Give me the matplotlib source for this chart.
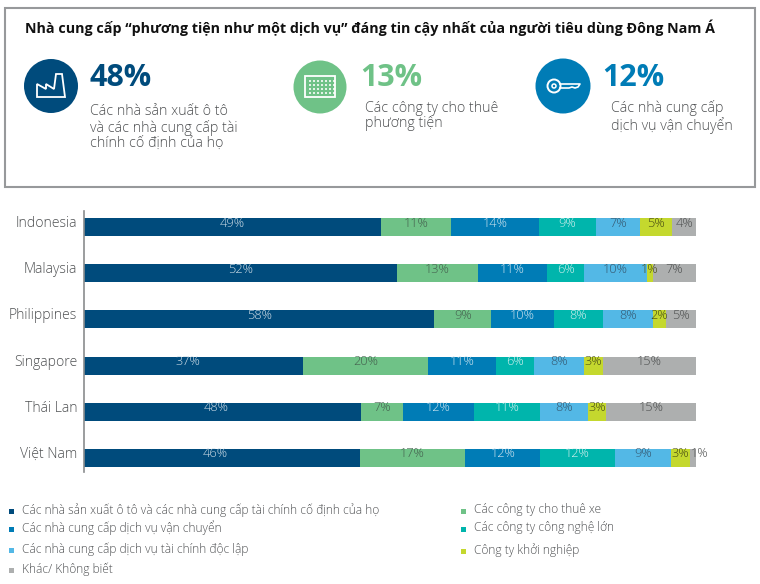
import matplotlib
matplotlib.use("Agg")
import matplotlib.pyplot as plt
from matplotlib.patches import Circle, Rectangle, Polygon
import numpy as np

plt.rcParams["font.family"] = ["Open Sans", "Noto Sans", "DejaVu Sans"]

W, H = 760, 584

countries = ["Indonesia", "Malaysia", "Philippines", "Singapore", "Thái Lan", "Việt Nam"]
series_names = [
    "Các nhà sản xuất ô tô và các nhà cung cấp tài chính cố định của họ",
    "Các công ty cho thuê xe",
    "Các nhà cung cấp dịch vụ vận chuyển",
    "Các công ty công nghệ lớn",
    "Các nhà cung cấp dịch vụ tài chính độc lập",
    "Công ty khởi nghiệp",
    "Khác/ Không biết",
]
colors = ["#004b7c", "#6fc287", "#007cb6", "#00b5ac", "#53b8e6", "#c4d82e", "#adafaf"]
label_colors = ["#cfdde7", "#44604e", "#cfe4ef", "#d3f0ee", "#35566e", "#474b14", "#4d4f4f"]

# segment widths as drawn (share of the bar)
oem = [48.5, 51.1, 57.2, 35.8, 45.2, 45.0]
rental = [11.4, 13.3, 9.3, 20.4, 6.9, 17.3]
mobility = [14.4, 11.2, 10.2, 11.1, 11.6, 12.2]
tech = [9.3, 6.1, 8.05, 6.2, 10.8, 12.2]
finance = [7.2, 10.2, 8.2, 8.2, 7.8, 9.2]
startup = [5.2, 1.0, 2.1, 3.1, 3.0, 3.1]
other = [4.1, 7.1, 5.0, 15.2, 14.6, 1.0]
widths = [oem, rental, mobility, tech, finance, startup, other]

# printed labels
labels = [
    [49, 52, 58, 37, 48, 46],
    [11, 13, 9, 20, 7, 17],
    [14, 11, 10, 11, 12, 12],
    [9, 6, 8, 6, 11, 12],
    [7, 10, 8, 8, 8, 9],
    [5, 1, 2, 3, 3, 3],
    [4, 7, 5, 15, 15, 1],
]

headline_values = ["48%", "13%", "12%"]
headline_text = [
    "Các nhà sản xuất ô tô\nvà các nhà cung cấp tài\nchính cố định của họ",
    "Các công ty cho thuê\nphương tiện",
    "Các nhà cung cấp\ndịch vụ vận chuyển",
]

fig = plt.figure(figsize=(W / 100, H / 100), dpi=100, facecolor="white")

# overlay in pixel coordinates for the header box and legend
bg = fig.add_axes([0, 0, 1, 1])
bg.set_xlim(0, W)
bg.set_ylim(H, 0)
bg.axis("off")

bg.add_patch(Rectangle((5, 8), 750, 179, fc="white", ec="#97999b", lw=1.5))
bg.text(25, 28, "Nhà cung cấp “phương tiện như một dịch vụ” đáng tin cậy nhất của người tiêu dùng Đông Nam Á",
        fontsize=10.3, fontweight="bold", color="#111111", va="center")

# headline numbers
bg.text(90, 78, headline_values[0], fontsize=22, fontweight="bold", color=colors[0], va="center")
bg.text(360, 78, headline_values[1], fontsize=22, fontweight="bold", color=colors[1], va="center")
bg.text(602, 78, headline_values[2], fontsize=22, fontweight="bold", color=colors[2], va="center")
bg.text(90, 127.5, headline_text[0], fontsize=10.25, fontweight="light", color="#4f5153", va="center", linespacing=1.07)
bg.text(365, 116, headline_text[1], fontsize=10.25, fontweight="light", color="#4f5153", va="center", linespacing=1.07)
bg.text(611, 117, headline_text[2], fontsize=10.25, fontweight="light", color="#4f5153", va="center", linespacing=1.07)

# icons
bg.add_patch(Circle((51, 86), 27, fc=colors[0], ec="none"))
bg.add_patch(Circle((320, 87), 26.5, fc=colors[1], ec="none"))
bg.add_patch(Circle((563, 86), 27.5, fc=colors[2], ec="none"))

# factory
bg.add_patch(Polygon([(37, 97), (37, 84), (46, 89), (46, 84), (54, 89), (56, 74), (62, 74), (65, 97)],
                     closed=True, fc="none", ec="white", lw=1.3))
# calendar grid
bg.add_patch(Rectangle((305, 76), 30, 21, fc="none", ec="white", lw=1.3))
for gx in np.arange(309, 334, 4):
    for gy in np.arange(80, 95, 4):
        bg.add_patch(Rectangle((gx, gy), 2.4, 2.4, fc="white", ec="none", alpha=0.8))
# key
bg.add_patch(Circle((554, 86), 6.5, fc="none", ec="white", lw=1.4))
bg.add_patch(Circle((554, 86), 2, fc="none", ec="white", lw=1.1))
bg.plot([560, 580, 578, 575, 572, 569, 566, 560], [84, 84, 87, 88, 87, 88, 88, 88], color="white", lw=1.2)

# legend
legend_pos = [(22, 510), (474, 510), (22, 528), (474, 528), (22, 549), (474, 550), (22, 569)]
for name, col, (lx, ly) in zip(series_names, colors, legend_pos):
    bg.add_patch(Rectangle((lx - 13, ly - 1), 5, 5, fc=col, ec="none"))
    bg.text(lx, ly, name, fontsize=8.6, fontweight="light", color="#4f5153", va="center")

# bars
ax = fig.add_axes([84 / W, 1 - 472 / H, (696.3 - 84) / W, (472 - 211) / H])
ax.patch.set_alpha(0)
ax.set_xlim(0, 100)
ax.set_ylim(472, 211)
bar_y = 227.3 + 46.1 * np.arange(len(countries))

left = np.zeros(len(countries))
for vals, col, lab, lab_col in zip(widths, colors, labels, label_colors):
    vals = np.array(vals)
    ax.barh(bar_y, vals, left=left, height=18, color=col, edgecolor="none")
    for i, (y, v, l) in enumerate(zip(bar_y, vals, lab)):
        cx = left[i] + v / 2
        if col == colors[0] and i in (3, 4, 5):
            cx -= 1.0
        if col == colors[6] and i == 5:
            cx += 1.0
        ax.text(cx, y - 4, f"{l}%", ha="center", va="center", fontsize=9.2, fontweight="light", color=lab_col)
    left += vals

# country names sit above the bar centres
ax.set_yticks(bar_y - 5.5)
ax.set_yticklabels(countries, fontsize=10.1, fontweight="light", color="#4f5153")
ax.tick_params(axis="y", length=0, pad=5)
ax.set_xticks([])
for s in ["top", "right", "bottom"]:
    ax.spines[s].set_visible(False)
ax.spines["left"].set_color("#8a8c8e")
ax.spines["left"].set_linewidth(1.2)

fig.savefig("out.png", dpi=100)
